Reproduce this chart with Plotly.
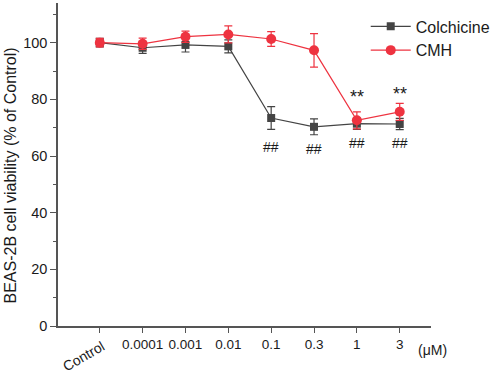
import plotly.graph_objects as go

categories = ["Control", "0.0001", "0.001", "0.01", "0.1", "0.3", "1", "3"]
colchicine = [100.0, 98.2, 99.2, 98.7, 73.4, 70.3, 71.4, 71.3]
colchicine_err = [1.5, 2.0, 2.5, 2.3, 4.0, 2.8, 2.0, 2.0]
cmh = [100.0, 99.6, 102.1, 102.9, 101.3, 97.3, 72.6, 75.6]
cmh_err = [1.5, 2.0, 2.0, 3.0, 2.6, 5.9, 3.0, 3.0]
star_idx = [6, 7]
star_y = [80.8, 82.0]
hash_idx = [4, 5, 6, 7]
hash_y = [63.3, 62.4, 64.5, 64.5]

x = list(range(len(categories)))
font = "Liberation Sans, Arial, sans-serif"
gray = "#444444"
red = "#EE3340"
txt = "#1a1a1a"

fig = go.Figure()
fig.add_trace(go.Scatter(
    x=x, y=colchicine, name="Colchicine", mode="lines+markers",
    line=dict(color=gray, width=1.2),
    marker=dict(symbol="square", size=8, color=gray),
    error_y=dict(type="data", array=colchicine_err, color=gray, thickness=1.2, width=4),
))
fig.add_trace(go.Scatter(
    x=x, y=cmh, name="CMH", mode="lines+markers",
    line=dict(color=red, width=1.2),
    marker=dict(symbol="circle", size=10, color=red),
    error_y=dict(type="data", array=cmh_err, color=red, thickness=1.2, width=4),
))

ann = []
for i, yv in zip(star_idx, star_y):
    ann.append(dict(x=i, y=yv, text="**", showarrow=False, xref="x", yref="y",
                    font=dict(family=font, size=18, color=txt)))
for i, yv in zip(hash_idx, hash_y):
    ann.append(dict(x=i, y=yv, text="##", showarrow=False, xref="x", yref="y",
                    font=dict(family=font, size=14, color=txt)))
ann.append(dict(x=0, y=0, text=categories[0], showarrow=False, xref="x", yref="y",
                textangle=-30, yshift=-30, xshift=-16,
                font=dict(family=font, size=14, color=txt)))
ann.append(dict(x=1, y=0, text="(μM)", showarrow=False, xref="paper", yref="y",
                xanchor="left", yshift=-24, xshift=-15,
                font=dict(family=font, size=14, color=txt)))
ann.append(dict(x=0, y=0.5, text="BEAS-2B cell viability (% of Control)", showarrow=False,
                xref="paper", yref="paper", textangle=-90, xanchor="center", xshift=-48, yshift=-11,
                font=dict(family=font, size=16, color=txt)))

fig.update_layout(
    width=498, height=373,
    margin=dict(l=58, r=65, t=3, b=47),
    paper_bgcolor="white", plot_bgcolor="white",
    showlegend=True,
    legend=dict(x=0.825, y=0.98, xanchor="left", yanchor="top",
                font=dict(family=font, size=16, color=txt),
                bgcolor="rgba(0,0,0,0)", itemwidth=40, tracegroupgap=0),
    annotations=ann,
    font=dict(family=font, color=txt),
)
fig.update_xaxes(
    range=[-0.975, 7.73], tickmode="array", tickvals=x,
    ticktext=[""] + categories[1:], automargin=False, tickangle=0,
    showline=True, linecolor="#555", linewidth=1.5,
    ticks="outside", ticklen=5, tickcolor="#555",
    showgrid=False, zeroline=False,
    tickfont=dict(family=font, size=13.5, color=txt),
)
fig.update_yaxes(
    range=[0, 114], tickmode="array", tickvals=[0, 20, 40, 60, 80, 100],
    showline=True, linecolor="#555", linewidth=1.5, automargin=False,
    ticks="outside", ticklen=6, tickcolor="#555",
    minor=dict(tickvals=[10, 30, 50, 70, 90, 110], ticks="outside", ticklen=3, tickcolor="#555"),
    showgrid=False, zeroline=False,
    tickfont=dict(family=font, size=14.5, color=txt),
)
fig.write_html("out.html", config={"displayModeBar": False},
               post_script="document.body.style.margin='0';document.body.style.overflow='hidden';")
